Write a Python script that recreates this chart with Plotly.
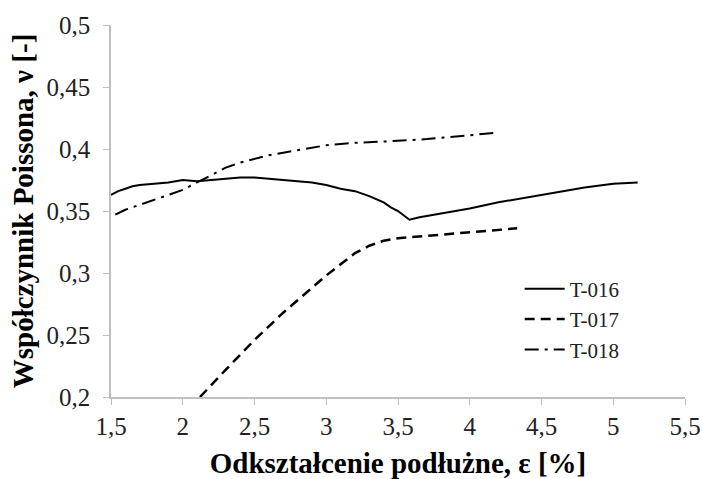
import plotly.graph_objects as go

# Data
t016_x = [1.50, 1.55, 1.60, 1.65, 1.70, 1.80, 1.90, 2.00, 2.10, 2.20, 2.30, 2.40, 2.50,
          2.60, 2.70, 2.80, 2.90, 3.00, 3.10, 3.20, 3.30, 3.40, 3.45, 3.50, 3.55, 3.58,
          3.65, 3.80, 4.00, 4.20, 4.40, 4.60, 4.80, 5.00, 5.17]
t016_y = [0.363, 0.366, 0.368, 0.370, 0.371, 0.372, 0.373, 0.375, 0.374, 0.375, 0.376, 0.377, 0.377,
          0.376, 0.375, 0.374, 0.373, 0.371, 0.368, 0.366, 0.362, 0.357, 0.353, 0.350, 0.346, 0.343,
          0.345, 0.348, 0.352, 0.357, 0.361, 0.365, 0.369, 0.372, 0.373]

t017_x = [2.12, 2.20, 2.30, 2.40, 2.50, 2.60, 2.70, 2.80, 2.90, 3.00, 3.10, 3.20, 3.30,
          3.40, 3.50, 3.60, 3.80, 4.00, 4.20, 4.33]
t017_y = [0.200, 0.210, 0.222, 0.234, 0.246, 0.257, 0.268, 0.278, 0.288, 0.298, 0.307, 0.316, 0.322,
          0.326, 0.328, 0.329, 0.331, 0.333, 0.335, 0.336]

t018_x = [1.53, 1.60, 1.70, 1.80, 1.90, 2.00, 2.10, 2.20, 2.30, 2.40, 2.50, 2.60, 2.70,
          2.80, 2.90, 3.00, 3.10, 3.20, 3.40, 3.60, 3.70, 3.80, 4.00, 4.18]
t018_y = [0.347, 0.351, 0.355, 0.359, 0.363, 0.367, 0.373, 0.379, 0.385, 0.389, 0.392, 0.395, 0.397,
          0.399, 0.401, 0.403, 0.404, 0.405, 0.406, 0.407, 0.408, 0.409, 0.411, 0.413]

x_ticks = [1.5, 2, 2.5, 3, 3.5, 4, 4.5, 5, 5.5]
x_tick_labels = ["1,5", "2", "2,5", "3", "3,5", "4", "4,5", "5", "5,5"]
y_ticks = [0.2, 0.25, 0.3, 0.35, 0.4, 0.45, 0.5]
y_tick_labels = ["0,2", "0,25", "0,3", "0,35", "0,4", "0,45", "0,5"]

SERIF = "Liberation Serif"

fig = go.Figure()
fig.add_trace(go.Scatter(x=t016_x, y=t016_y, mode="lines", name="T-016",
                         line=dict(color="black", width=2)))
fig.add_trace(go.Scatter(x=t017_x, y=t017_y, mode="lines", name="T-017",
                         line=dict(color="black", width=2.5, dash="10px,6px")))
fig.add_trace(go.Scatter(x=t018_x, y=t018_y, mode="lines", name="T-018",
                         line=dict(color="black", width=2, dash="14px,6px,3px,6px")))

fig.update_layout(
    template="none",
    width=703, height=479,
    margin=dict(l=111, r=18, t=25, b=82),
    plot_bgcolor="white", paper_bgcolor="white",
    font=dict(family=SERIF, color="black", size=22),
    xaxis=dict(range=[1.5, 5.5], tickmode="array", tickvals=x_ticks, ticktext=x_tick_labels,
               showline=True, linecolor="#bfbfbf", linewidth=1.5, showgrid=False,
               zeroline=False, ticks="outside", ticklen=6, tickcolor="#bfbfbf",
               tickfont=dict(family=SERIF, size=25, color="#222"),
               title=dict(text="<b>Odkształcenie podłużne, ε [%]</b>",
                          font=dict(family=SERIF, size=29, color="black"), standoff=15)),
    yaxis=dict(range=[0.2, 0.5], tickmode="array", tickvals=y_ticks, ticktext=y_tick_labels,
               showline=True, linecolor="#bfbfbf", linewidth=1.5, showgrid=False,
               zeroline=False, ticks="outside", ticklen=6, tickcolor="#bfbfbf",
               tickfont=dict(family=SERIF, size=25, color="#222"),
               ticklabelstandoff=8,
               title=dict(text="<b>Współczynnik Poissona, ν [-]</b>",
                          font=dict(family=SERIF, size=29, color="black"), standoff=4)),
    legend=dict(x=0.712, y=0.345, xanchor="left", yanchor="top",
                font=dict(family=SERIF, size=21, color="#222"),
                bgcolor="rgba(0,0,0,0)", tracegroupgap=0, itemwidth=40),
)

fig.write_html("out.html")
